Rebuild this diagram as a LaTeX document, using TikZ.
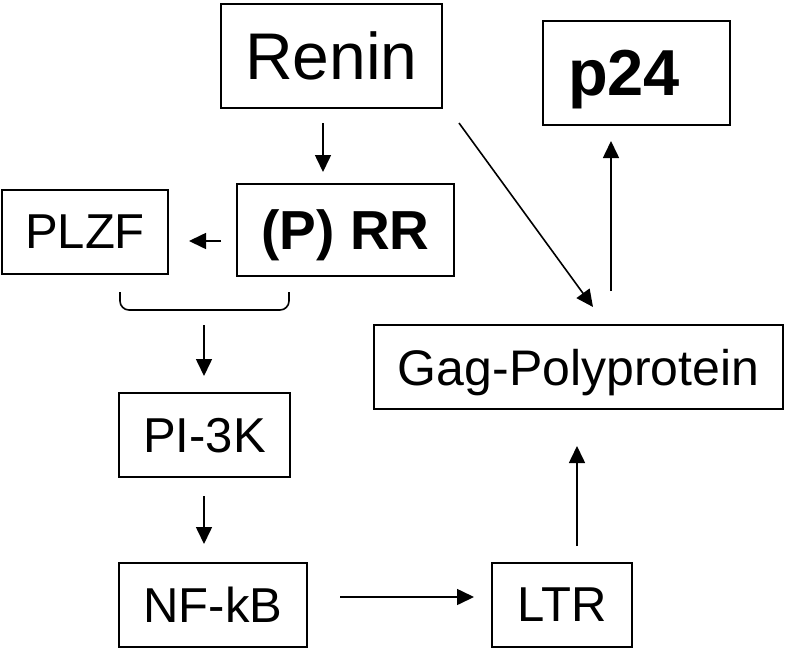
\documentclass[tikz,border=0pt]{standalone}
\usepackage{fontspec}
\setmainfont{Liberation Sans}
\usetikzlibrary{positioning, arrows.meta}

\begin{document}
\begin{tikzpicture}[x=1pt, y=-1pt]

  \tikzstyle{box}=[draw, line width=2pt, inner sep=0pt, text depth=0pt, align=center]
  \tikzstyle{txt}=[box, font=\fontsize{49}{56}\selectfont]
  \tikzstyle{arr}=[line width=1.6pt, -{Triangle[length=17pt, width=16pt]}]

  \useasboundingbox (0,0) rectangle (787,648);

  \node [box, font=\fontsize{66}{74}\selectfont, minimum width=221pt, minimum height=104pt] (renin) at (331.5,56) {Renin};
  \node [box, font=\bfseries\fontsize{65}{72}\selectfont, minimum height=104pt, text width=137pt, inner xsep=25pt, align=left] (p24) at (636.5,73) {p24};
  \node [box, font=\bfseries\fontsize{55}{62}\selectfont, minimum width=217pt, minimum height=92pt] (RR) at (345.5,230) {(P) RR};
  \node [txt, minimum width=166pt, minimum height=84pt] (PLZF) at (85,232) {PLZF};
  \node [txt, font=\fontsize{50}{58}\selectfont, minimum width=409pt, minimum height=84pt] (gag) at (578.5,367) {Gag-Polyprotein};
  \node [txt, minimum width=171pt, minimum height=84pt] (PI3K) at (204.5,435) {PI-3K};
  \node [txt, minimum width=188pt, minimum height=84pt] (NFkB) at (213,605) {NF-kB};
  \node [txt, minimum width=140pt, minimum height=84pt] (LTR) at (562,605) {LTR};

  % bracket under PLZF and (P) RR
  \coordinate (br-l) at (120,292);
  \coordinate (br-r) at (289,292);
  \coordinate (br) at (204,310);
  \draw [line width=1.6pt, rounded corners=9pt] (br-l) -- ++(0,18) -| (br-r);

  \draw [arr, shorten <=14pt, shorten >=11pt] ([xshift=-8.5pt]renin.south) -- ([xshift=-8.5pt]renin.south |- RR.north);
  \draw [arr, shorten <=15pt, shorten >=20pt] ([yshift=-11pt]RR.west) -- ([yshift=-11pt]RR.west -| PLZF.east);
  \draw [arr] ([shift={(16pt,-14pt)}]renin.south east) -- ([shift={(14.5pt,17pt)}]gag.north);
  \draw [arr, shorten <=15pt, shorten >=16pt] (br) -- (br |- PI3K.north);
  \draw [arr, shorten <=18pt, shorten >=18pt] (PI3K.south -| br) -- (br |- NFkB.north);
  \draw [arr, shorten <=32pt, shorten >=17pt] ([yshift=8pt]NFkB.east) -- ([yshift=8pt]NFkB.east -| LTR.west);
  \draw [arr, shorten <=16pt, shorten >=36pt] ([xshift=15pt]LTR.north) -- ([xshift=15pt]LTR.north |- gag.south);
  \draw [arr, shorten <=33pt, shorten >=15pt] ([xshift=32.5pt]gag.north) -- ([xshift=32.5pt]gag.north |- p24.south);
\end{tikzpicture}
\end{document}
